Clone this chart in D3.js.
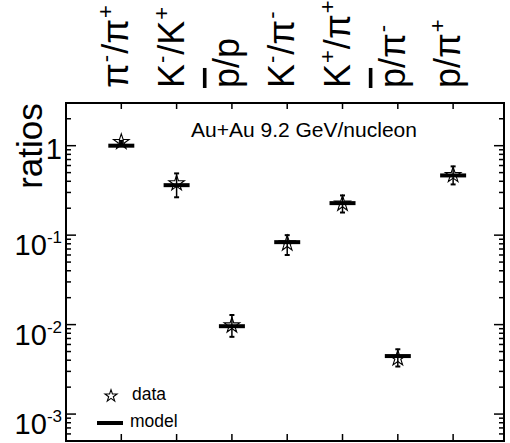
<!DOCTYPE html>
<html>
<head>
<meta charset="utf-8">
<script src="https://cdn.jsdelivr.net/npm/d3@7"></script>
<style>
  body { margin: 0; background: #fff; }
  text { font-family: "Liberation Sans", Arial, Helvetica, sans-serif; fill: #000; }
</style>
</head>
<body>
<div id="chart"></div>
<script>
// particle ratios, ROOT-like markup: ^{..} superscript, #bar{..} overline
var ratioLabels = ["π^{-}/π^{+}", "K^{-}/K^{+}", "#bar{p}/p", "K^{-}/π^{-}",
                   "K^{+}/π^{+}", "#bar{p}/π^{-}", "p/π^{+}"];
var dataVals  = [1.1, 0.38, 0.0098, 0.081, 0.225, 0.0042, 0.47];
var dataLow   = [1.07, 0.265, 0.0073, 0.060, 0.179, 0.0034, 0.369];
var dataHigh  = [1.13, 0.49, 0.0128, 0.100, 0.278, 0.0053, 0.587];
var modelVals = [1.0, 0.362, 0.0096, 0.0835, 0.228, 0.00445, 0.465];
var yMajorTicks  = [1e-3, 1e-2, 1e-1, 1];
var yTickLabels  = ["10^{-3}", "10^{-2}", "10^{-1}", "1"];
var systemLabel = "Au+Au 9.2 GeV/nucleon";
var legendLabels = ["data", "model"];

var W = 510, H = 443;
var pL = 66, pR = 504, pT = 103, pB = 441;

var svg = d3.select("#chart").append("svg")
    .attr("width", W).attr("height", H);

var x = d3.scaleLinear().domain([0, 7.92]).range([pL, pR]);
var y = d3.scaleLog().domain([5e-4, 3]).range([pB, pT]);

// split markup into pieces
function parseLabel(s) {
  var re = /\^\{([^}]*)\}|#bar\{([^}]*)\}|([^\^#]+)/g, m, out = [];
  while ((m = re.exec(s)) !== null) {
    if (m[1] !== undefined) out.push({t: m[1], kind: "sup"});
    else if (m[2] !== undefined) out.push({t: m[2], kind: "bar"});
    else out.push({t: m[3], kind: "n"});
  }
  return out;
}

function fillRich(textSel, s, size, supSize, supRise, gap) {
  var parts = parseLabel(s);
  var raised = false;
  parts.forEach(function(p) {
    var ts = textSel.append("tspan").text(p.t);
    if (p.kind === "sup") {
      ts.attr("font-size", supSize).attr("dy", raised ? 0 : -supRise).attr("dx", gap || 0);
      raised = true;
    } else {
      ts.attr("font-size", size).attr("dy", raised ? supRise : 0).attr("dx", raised ? (gap || 0) : 0);
      raised = false;
      if (p.kind === "bar") ts.style("text-decoration", "overline");
    }
  });
}

// frame
svg.append("rect")
    .attr("x", pL).attr("y", pT)
    .attr("width", pR - pL).attr("height", pB - pT)
    .attr("fill", "none").attr("stroke", "#000").attr("stroke-width", 2);

// log ticks on left and right, inward
var allY = y.ticks().filter(function(v) { return v >= 5e-4 && v <= 3; });
function isMajor(v) { return Math.abs(Math.log10(v) - Math.round(Math.log10(v))) < 1e-6; }

[[pL, 1], [pR, -1]].forEach(function(side) {
  svg.append("g").selectAll("line")
      .data(allY).enter().append("line")
      .attr("x1", side[0])
      .attr("x2", function(v) { return side[0] + side[1] * (isMajor(v) ? 10 : 5); })
      .attr("y1", function(v) { return y(v); })
      .attr("y2", function(v) { return y(v); })
      .attr("stroke", "#000").attr("stroke-width", 1.5);
});

// category ticks top and bottom
var cats = d3.range(1, ratioLabels.length + 1);
svg.append("g").selectAll("line")
    .data(cats).enter().append("line")
    .attr("x1", function(d) { return x(d); }).attr("x2", function(d) { return x(d); })
    .attr("y1", pT).attr("y2", pT + 6)
    .attr("stroke", "#000").attr("stroke-width", 1.5);
svg.append("g").selectAll("line")
    .data(cats).enter().append("line")
    .attr("x1", function(d) { return x(d); }).attr("x2", function(d) { return x(d); })
    .attr("y1", pB).attr("y2", pB - 7)
    .attr("stroke", "#000").attr("stroke-width", 1.5);

// y tick labels
yMajorTicks.forEach(function(v, i) {
  var lab = yTickLabels[i];
  var t = svg.append("text")
      .attr("x", 62)
      .attr("y", y(v) + (lab === "1" ? 13 : 20))
      .attr("text-anchor", "end");
  fillRich(t, lab, 29, 17, 12);
});

// y title
svg.append("text")
    .attr("transform", "translate(42,146) rotate(-90)")
    .attr("text-anchor", "middle")
    .attr("font-size", 35)
    .text("ratios");

// category labels on top, rotated
ratioLabels.forEach(function(lab, i) {
  var t = svg.append("text")
      .attr("transform", "translate(" + (x(i + 1) + 7) + ",88) rotate(-90)")
      .attr("text-anchor", "start");
  fillRich(t, lab, 36, 22, 15, 1);
});

// system label
svg.append("text")
    .attr("x", 191).attr("y", 137)
    .attr("font-size", 21)
    .text(systemLabel);

// error bars
var g = svg.append("g");
g.selectAll("line.err")
    .data(dataVals).enter().append("line")
    .attr("x1", function(d, i) { return x(i + 1); })
    .attr("x2", function(d, i) { return x(i + 1); })
    .attr("y1", function(d, i) { return y(dataLow[i]); })
    .attr("y2", function(d, i) { return y(dataHigh[i]); })
    .attr("stroke", "#000").attr("stroke-width", 1.5);
[dataLow, dataHigh].forEach(function(arr) {
  g.append("g").selectAll("line")
      .data(arr).enter().append("line")
      .attr("x1", function(d, i) { return x(i + 1) - 2.5; })
      .attr("x2", function(d, i) { return x(i + 1) + 2.5; })
      .attr("y1", function(d) { return y(d); })
      .attr("y2", function(d) { return y(d); })
      .attr("stroke", "#000").attr("stroke-width", 2);
});

// model bars
g.append("g").selectAll("line")
    .data(modelVals).enter().append("line")
    .attr("x1", function(d, i) { return x(i + 1) - 13; })
    .attr("x2", function(d, i) { return x(i + 1) + 13; })
    .attr("y1", function(d) { return y(d); })
    .attr("y2", function(d) { return y(d); })
    .attr("stroke", "#000").attr("stroke-width", 4);

// data stars
var star = d3.symbol().type(d3.symbolStar).size(75);
g.append("g").selectAll("path")
    .data(dataVals).enter().append("path")
    .attr("d", star)
    .attr("transform", function(d, i) { return "translate(" + x(i + 1) + "," + y(d) + ")"; })
    .attr("fill", "none").attr("stroke", "#000").attr("stroke-width", 1.1);

// legend
svg.append("path")
    .attr("d", d3.symbol().type(d3.symbolStar).size(45))
    .attr("transform", "translate(111,396)")
    .attr("fill", "none").attr("stroke", "#000").attr("stroke-width", 1.1);
svg.append("text").attr("x", 132).attr("y", 400).attr("font-size", 17.5).text(legendLabels[0]);
svg.append("line")
    .attr("x1", 97).attr("x2", 123).attr("y1", 423).attr("y2", 423)
    .attr("stroke", "#000").attr("stroke-width", 4);
svg.append("text").attr("x", 130).attr("y", 427).attr("font-size", 17.5).text(legendLabels[1]);
</script>
</body>
</html>
